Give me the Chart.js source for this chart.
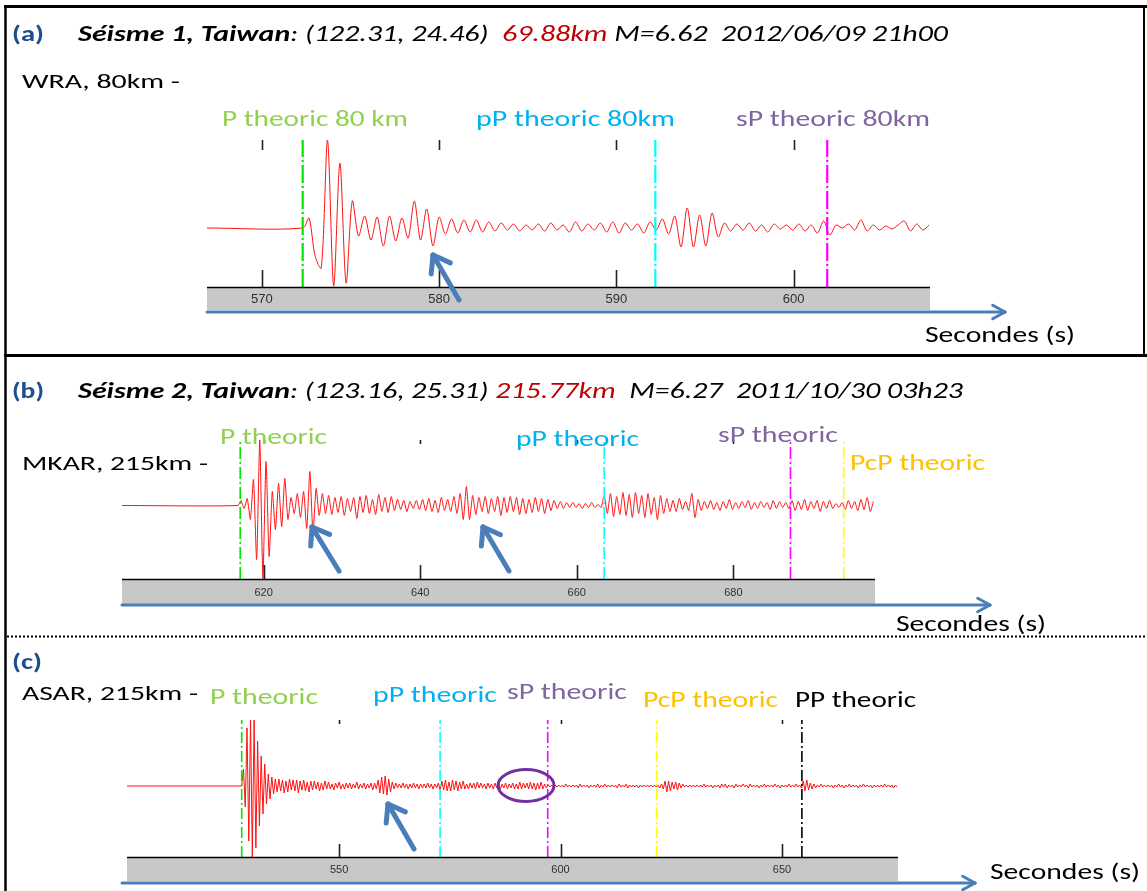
<!DOCTYPE html>
<html><head><meta charset="utf-8">
<script src="https://cdn.jsdelivr.net/npm/chart.js@4.4.0/dist/chart.umd.min.js"></script>
<style>
html,body{margin:0;padding:0;background:#fff;}
#page{position:relative;width:1147px;height:891px;overflow:hidden;background:#fff;font-family:Carlito,Lato,"Open Sans",sans-serif;}
.t{position:absolute;white-space:pre;line-height:1.2;transform-origin:0 0;}
canvas{position:absolute;}
svg{position:absolute;left:0;top:0;}
</style></head><body><div id="page">
<canvas id="cA"></canvas><canvas id="cB"></canvas><canvas id="cC"></canvas>
<svg id="ov" width="1147" height="891"></svg>
</div>
<script>
// ---------------- DATA ----------------
// Panel (a) : WRA, 80 km
const ticksA = [570, 580, 590, 600];
const rangeA = [566.9, 607.7];
const phasesA = [572.3, 592.2, 601.9];          // P, pP, sP theoretical times (s)
const waveA_t0 = 572.3, waveA_dt = 0.35;
const waveA = [
 0,10,-28,-40,88,-58,65,-55,27,-8,
 12,-12,11,-18,12,-13,10,-10,27,-12,
 19,-18,11,-6,9,-5,8,-4,8,-4,
 6,-3,5,-2,4,-3,3,-2,4,-3,
 5,-2,3,-4,6,-3,4,-2,5,-4,
 6,-5,5,-2,4,-5,6,-2,9,-6,
 12,-19,20,-19,13,-18,15,-9,5,-3,
 4,-2,5,-3,3,-4,4,-1,3,-2,
 4,-3,3,-5,7,-7,3,0,4,-2,
 8,-3,3,-2,2,-1,3,7,-3,4,
 -2,3
];
// Panel (b) : MKAR, 215 km
const ticksB = [620, 640, 660, 680];
const rangeB = [601.9, 698.1];
const phasesB = [617.0, 663.5, 687.3, 694.1];   // P, pP, sP, PcP
const waveB_t0 = 616.7, waveB_dt = 0.4;
const waveB = [
 0,5,-3,7,-14,26,-54,66,-73,44,
 -51,14,-24,22,-21,27,-14,8,-8,12,
 -12,14,-23,34,-28,17,-10,12,-8,10,
 -9,8,-7,9,-10,7,-6,8,-13,9,
 -7,10,-8,6,-9,11,-6,8,-7,9,
 -5,6,-4,5,-6,4,-3,5,-4,6,
 -5,7,-6,5,-7,8,-5,6,-6,9,
 -8,12,-14,19,-14,10,-9,8,-6,9,
 -8,7,-6,9,-10,8,-7,9,-6,8,
 -9,7,-8,6,-7,8,-6,7,-8,6,
 -5,5,-3,4,-3,3,-2,3,-2,2,
 -3,2,-2,3,-2,1,-2,10,-8,12,
 -11,9,-9,13,-10,11,-12,13,-8,10,
 -12,12,-9,8,-14,10,-8,7,-6,5,
 -6,7,-4,4,-5,12,-12,6,-5,4,
 -3,5,-4,3,-5,4,-3,6,-4,3,
 -3,4,-2,5,-4,3,-3,4,-2,3,
 -4,5,-3,4,-2,3,-3,5,-5,4,
 -4,6,-5,4,-3,5,-6,4,-3,5,
 -3,2,-2,3,-4,5,-3,4,-5,6,
 -4,8,-6,4
];
// Panel (c) : ASAR, 215 km
const ticksC = [550, 600, 650];
const rangeC = [502.1, 676.2];
const phasesC = [528.0, 572.8, 597.1, 621.7, 654.5]; // P, pP, sP, PcP, PP
const waveC_t0 = 528.0, waveC_dt = 0.4;
const waveC = [
 0,17,-21,58,-55,67,-71,66,-62,45,
 -40,30,-28,22,-18,12,-13,9,-8,7,
 -6,7,-5,6,-7,5,-6,7,-4,6,
 -5,6,-7,5,-4,6,-5,4,-6,5,
 -4,5,-3,4,-5,3,-4,5,-3,4,
 -3,2,-4,3,-2,4,-3,2,-3,3,
 -2,3,-3,2,-2,4,-3,2,-2,3,
 -3,2,-2,3,-4,3,-3,6,-7,9,
 -8,10,-9,7,-6,4,-3,3,-2,2,
 -2,3,-2,2,-3,2,-2,3,-2,2,
 -3,2,-2,2,-2,3,-2,2,-3,2,
 -2,3,-4,5,-4,6,-5,4,-5,6,
 -4,5,-5,4,-3,5,-3,2,-3,3,
 -2,3,-3,4,-2,3,-2,2,-3,3,
 -2,2,-3,3,-2,4,-3,2,-2,3,
 -3,2,-2,3,-3,2,-3,4,-3,3,
 -2,3,-3,4,-3,3,-4,3,-3,4,
 -3,2,-2,1,-1,1,-1,1,-1,1,
 -1,1,-1,2,-1,1,-1,1,-1,1,
 -2,2,-1,1,-1,1,-2,1,-1,1,
 -1,2,-2,1,-1,2,-1,1,-1,1,
 -1,1,-2,2,-1,1,-1,2,-2,1,
 -1,1,-1,1,-2,1,-1,1,-1,1,
 -1,1,-1,1,-1,1,-2,2,-3,5,
 -6,5,-5,4,-3,4,-4,3,-2,2,
 -1,1,-1,1,-1,1,-1,1,-1,1,
 -1,2,-1,1,-1,1,-2,1,-1,1,
 -2,2,-1,2,-2,1,-1,1,-2,2,
 -1,1,-1,2,-1,1,-2,2,-1,1,
 -1,1,-2,1,-1,2,-1,1,-1,1,
 -1,2,-1,1,-2,1,-1,1,-1,2,
 -1,1,-1,2,-1,1,-2,5,-5,6,
 -4,3,-3,2,-2,1,-1,2,-1,1,
 -1,1,-1,1,-2,1,-1,2,-1,1,
 -2,1,-1,2,-1,1,-1,1,-2,1,
 -1,2,-1,1,-1,1,-2,1,-1,1,
 -1,1,-1,2,-1,1,-1,1,-2,1,
 -1
];

// ---------------- CHARTS ----------------
const barPlugin = {
  id: 'seisBar',
  beforeDraw(chart, args, o) {
    const {ctx, chartArea: a, scales: {x}} = chart;
    ctx.save();
    ctx.fillStyle = '#C8C8C8';
    ctx.fillRect(a.left, a.bottom, a.right - a.left, x.bottom - a.bottom);
    ctx.restore();
  },
  afterDatasetsDraw(chart, args, o) {
    const {ctx, chartArea: a, scales: {x}} = chart;
    ctx.save();
    ctx.strokeStyle = '#222';
    ctx.lineWidth = 1.6;
    x.ticks.forEach(t => {
      const px = Math.round(x.getPixelForValue(t.value)) + 0.5;
      ctx.beginPath();
      ctx.moveTo(px, a.top); ctx.lineTo(px, a.top + o.topTick);
      ctx.moveTo(px, a.bottom - o.botTick); ctx.lineTo(px, a.bottom);
      ctx.stroke();
    });
    ctx.strokeStyle = '#000'; ctx.lineWidth = 1.5;
    ctx.beginPath(); ctx.moveTo(a.left, a.bottom + 0.5); ctx.lineTo(a.right, a.bottom + 0.5); ctx.stroke();
    ctx.restore();
  }
};

function makeChart(id, box, d, st) {
  const cv = document.getElementById(id);
  cv.style.left = box.left + 'px'; cv.style.top = box.top + 'px';
  cv.width = box.w; cv.height = box.h;
  const pts = [{x: d.range[0], y: 0}];
  d.wave.forEach((v, i) => pts.push({x: d.t0 + i * d.dt, y: v}));
  const datasets = [{data: pts, borderColor: '#FF1010', borderWidth: 1, pointRadius: 0, tension: st.tension, order: 5}];
  d.phases.forEach((p, k) => datasets.push({
    data: [{x: p, y: st.yMin}, {x: p, y: st.yMax}],
    borderColor: st.phaseColors[k], borderWidth: st.phaseWidth, borderDash: st.dash,
    pointRadius: 0, order: 1
  }));
  new Chart(cv, {
    type: 'line',
    data: {datasets},
    options: {
      responsive: false, animation: false, events: [], devicePixelRatio: 1,
      layout: {padding: 0},
      plugins: {legend: {display: false}, tooltip: {enabled: false}, seisBar: {topTick: st.topTick, botTick: st.botTick}},
      scales: {
        x: {
          type: 'linear', min: d.range[0], max: d.range[1], position: 'bottom',
          grid: {display: false, drawTicks: false}, border: {display: false},
          ticks: {font: {family: 'Liberation Sans, Arial, sans-serif', size: st.labelSize}, color: '#303030', padding: st.labelPad, maxRotation: 0, autoSkip: false},
          afterBuildTicks: s => { s.ticks = d.ticks.map(v => ({value: v})); },
          afterFit: s => { s.height = st.barH; }
        },
        y: {display: false, min: st.yMin, max: st.yMax}
      }
    },
    plugins: [barPlugin]
  });
}

makeChart('cA', {left: 207, top: 140, w: 723, h: 170},
  {range: rangeA, ticks: ticksA, phases: phasesA, t0: waveA_t0, dt: waveA_dt, wave: waveA},
  {yMin: -59, yMax: 88, barH: 23, phaseColors: ['#00E600', '#00FFFF', '#FF00FF'], phaseWidth: 2.2, dash: [18, 3, 2, 3],
   topTick: 10, botTick: 17, labelSize: 13, labelPad: 5, tension: 0.3});
makeChart('cB', {left: 122, top: 440, w: 753, h: 164},
  {range: rangeB, ticks: ticksB, phases: phasesB, t0: waveB_t0, dt: waveB_dt, wave: waveB},
  {yMin: -73.5, yMax: 65.5, barH: 25, phaseColors: ['#00E600', '#00FFFF', '#FF00FF', '#FFFF00'], phaseWidth: 1.6, dash: [12, 3, 2, 3],
   topTick: 4, botTick: 14, labelSize: 11, labelPad: 7, tension: 0.2});
makeChart('cC', {left: 127, top: 720, w: 771, h: 161},
  {range: rangeC, ticks: ticksC, phases: phasesC, t0: waveC_t0, dt: waveC_dt, wave: waveC},
  {yMin: -71, yMax: 66, barH: 24, phaseColors: ['#00E600', '#00FFFF', '#FF00FF', '#FFFF00', '#000000'], phaseWidth: 1.6, dash: [11, 3, 2, 3],
   topTick: 4, botTick: 13, labelSize: 11, labelPad: 6, tension: 0});

// ---------------- OVERLAY (frames, arrows, ellipse) ----------------
const svg = document.getElementById('ov');
const NS = 'http://www.w3.org/2000/svg';
function el(tag, attrs) { const e = document.createElementNS(NS, tag); for (const k in attrs) e.setAttribute(k, attrs[k]); svg.appendChild(e); return e; }
function line(x1, y1, x2, y2, c, w, extra) { return el('line', Object.assign({x1, y1, x2, y2, stroke: c, 'stroke-width': w}, extra || {})); }
// frames
line(4, 6.5, 1147, 6.5, '#000', 3);
line(5.5, 5, 5.5, 891, '#000', 2.5);
line(1144, 5, 1144, 357, '#000', 2);
line(4, 355.5, 1147, 355.5, '#000', 3);
line(7, 636.5, 1147, 636.5, '#000', 2, {'stroke-dasharray': '2,2'});
const BLUE = '#4A7EBB';
function arrow(x1, y1, x2, y2, w, head, ang) {
  line(x1, y1, x2, y2, BLUE, w, {'stroke-linecap': 'round'});
  const a = Math.atan2(y1 - y2, x1 - x2);
  [ang, -ang].forEach(da => {
    line(x2, y2, x2 + head * Math.cos(a + da), y2 + head * Math.sin(a + da), BLUE, w, {'stroke-linecap': 'round'});
  });
}
// time axes arrows
arrow(207, 312, 1005, 312, 3, 14, 0.5);
arrow(122, 605, 990, 605, 3, 14, 0.5);
arrow(122, 883, 975, 883, 3, 14, 0.5);
// pointer arrows
arrow(459, 300, 433, 255, 5, 19, 0.62);
arrow(339, 571, 312, 527, 5, 19, 0.62);
arrow(509, 571, 483, 527, 5, 19, 0.62);
arrow(414, 849, 388, 804, 5, 19, 0.62);
// ellipse
el('ellipse', {cx: 526, cy: 785.5, rx: 28, ry: 16, fill: 'none', stroke: '#7030A0', 'stroke-width': 3});

// ---------------- TEXT ----------------
const page = document.getElementById('page');
function txt(x, base, size, w, html, color, weight, style) {
  const d = document.createElement('div');
  d.className = 't';
  d.style.fontSize = size + 'px';
  d.style.color = color || '#000';
  if (weight) d.style.fontWeight = weight;
  if (style) d.style.fontStyle = style;
  d.innerHTML = html;
  const probe = document.createElement('span');
  probe.style.display = 'inline-block'; probe.style.width = '0'; probe.style.height = '0';
  d.appendChild(probe);
  d.style.left = x + 'px'; d.style.top = '0px';
  page.appendChild(d);
  const r = d.getBoundingClientRect(), pr = probe.getBoundingClientRect();
  const off = pr.top - r.top;
  d.style.top = (base - off) + 'px';
  const sx = w / r.width;
  d.style.transform = 'scaleX(' + sx + ')';
}
const DB = '#1F4E8C', RED = '#C00000', GRN = '#92D050', CYA = '#00B0F0', PUR = '#8064A2', ORA = '#FFC000';
// panel a
txt(12, 41, 22, 32, '(a)', DB, 'bold');
txt(78, 41, 22, 870, '<b>Séisme 1, Taiwan</b>: (122.31, 24.46)  <span style="color:' + RED + '">69.88km</span> M=6.62  2012/06/09 21h00', '#000', null, 'italic');
txt(22, 88, 21, 158, 'WRA, 80km -');
txt(222, 126, 23, 186, 'P theoric 80 km', GRN);
txt(476, 126, 23, 199, 'pP theoric 80km', CYA);
txt(736, 126, 23, 194, 'sP theoric 80km', PUR);
txt(925, 342, 22, 150, 'Secondes (s)');
// panel b
txt(12, 398, 22, 32, '(b)', DB, 'bold');
txt(78, 398, 22, 885, '<b>Séisme 2, Taiwan</b>: (123.16, 25.31) <span style="color:' + RED + '">215.77km</span>  M=6.27  2011/10/30 03h23', '#000', null, 'italic');
txt(22, 470, 21, 186, 'MKAR, 215km -');
txt(220, 444, 23, 107, 'P theoric', GRN);
txt(516, 446, 23, 123, 'pP theoric', CYA);
txt(718, 442, 23, 120, 'sP theoric', PUR);
txt(850, 470, 23, 135, 'PcP theoric', ORA);
txt(896, 631, 22, 150, 'Secondes (s)');
// panel c
txt(12, 669, 22, 30, '(c)', DB, 'bold');
txt(22, 700, 21, 176, 'ASAR, 215km -');
txt(210, 704, 23, 108, 'P theoric', GRN);
txt(373, 702, 23, 124, 'pP theoric', CYA);
txt(507, 699, 23, 120, 'sP theoric', PUR);
txt(643, 707, 23, 135, 'PcP theoric', ORA);
txt(795, 707, 23, 121, 'PP theoric', '#000');
txt(990, 879, 22, 150, 'Secondes (s)');
</script>
</body></html>
